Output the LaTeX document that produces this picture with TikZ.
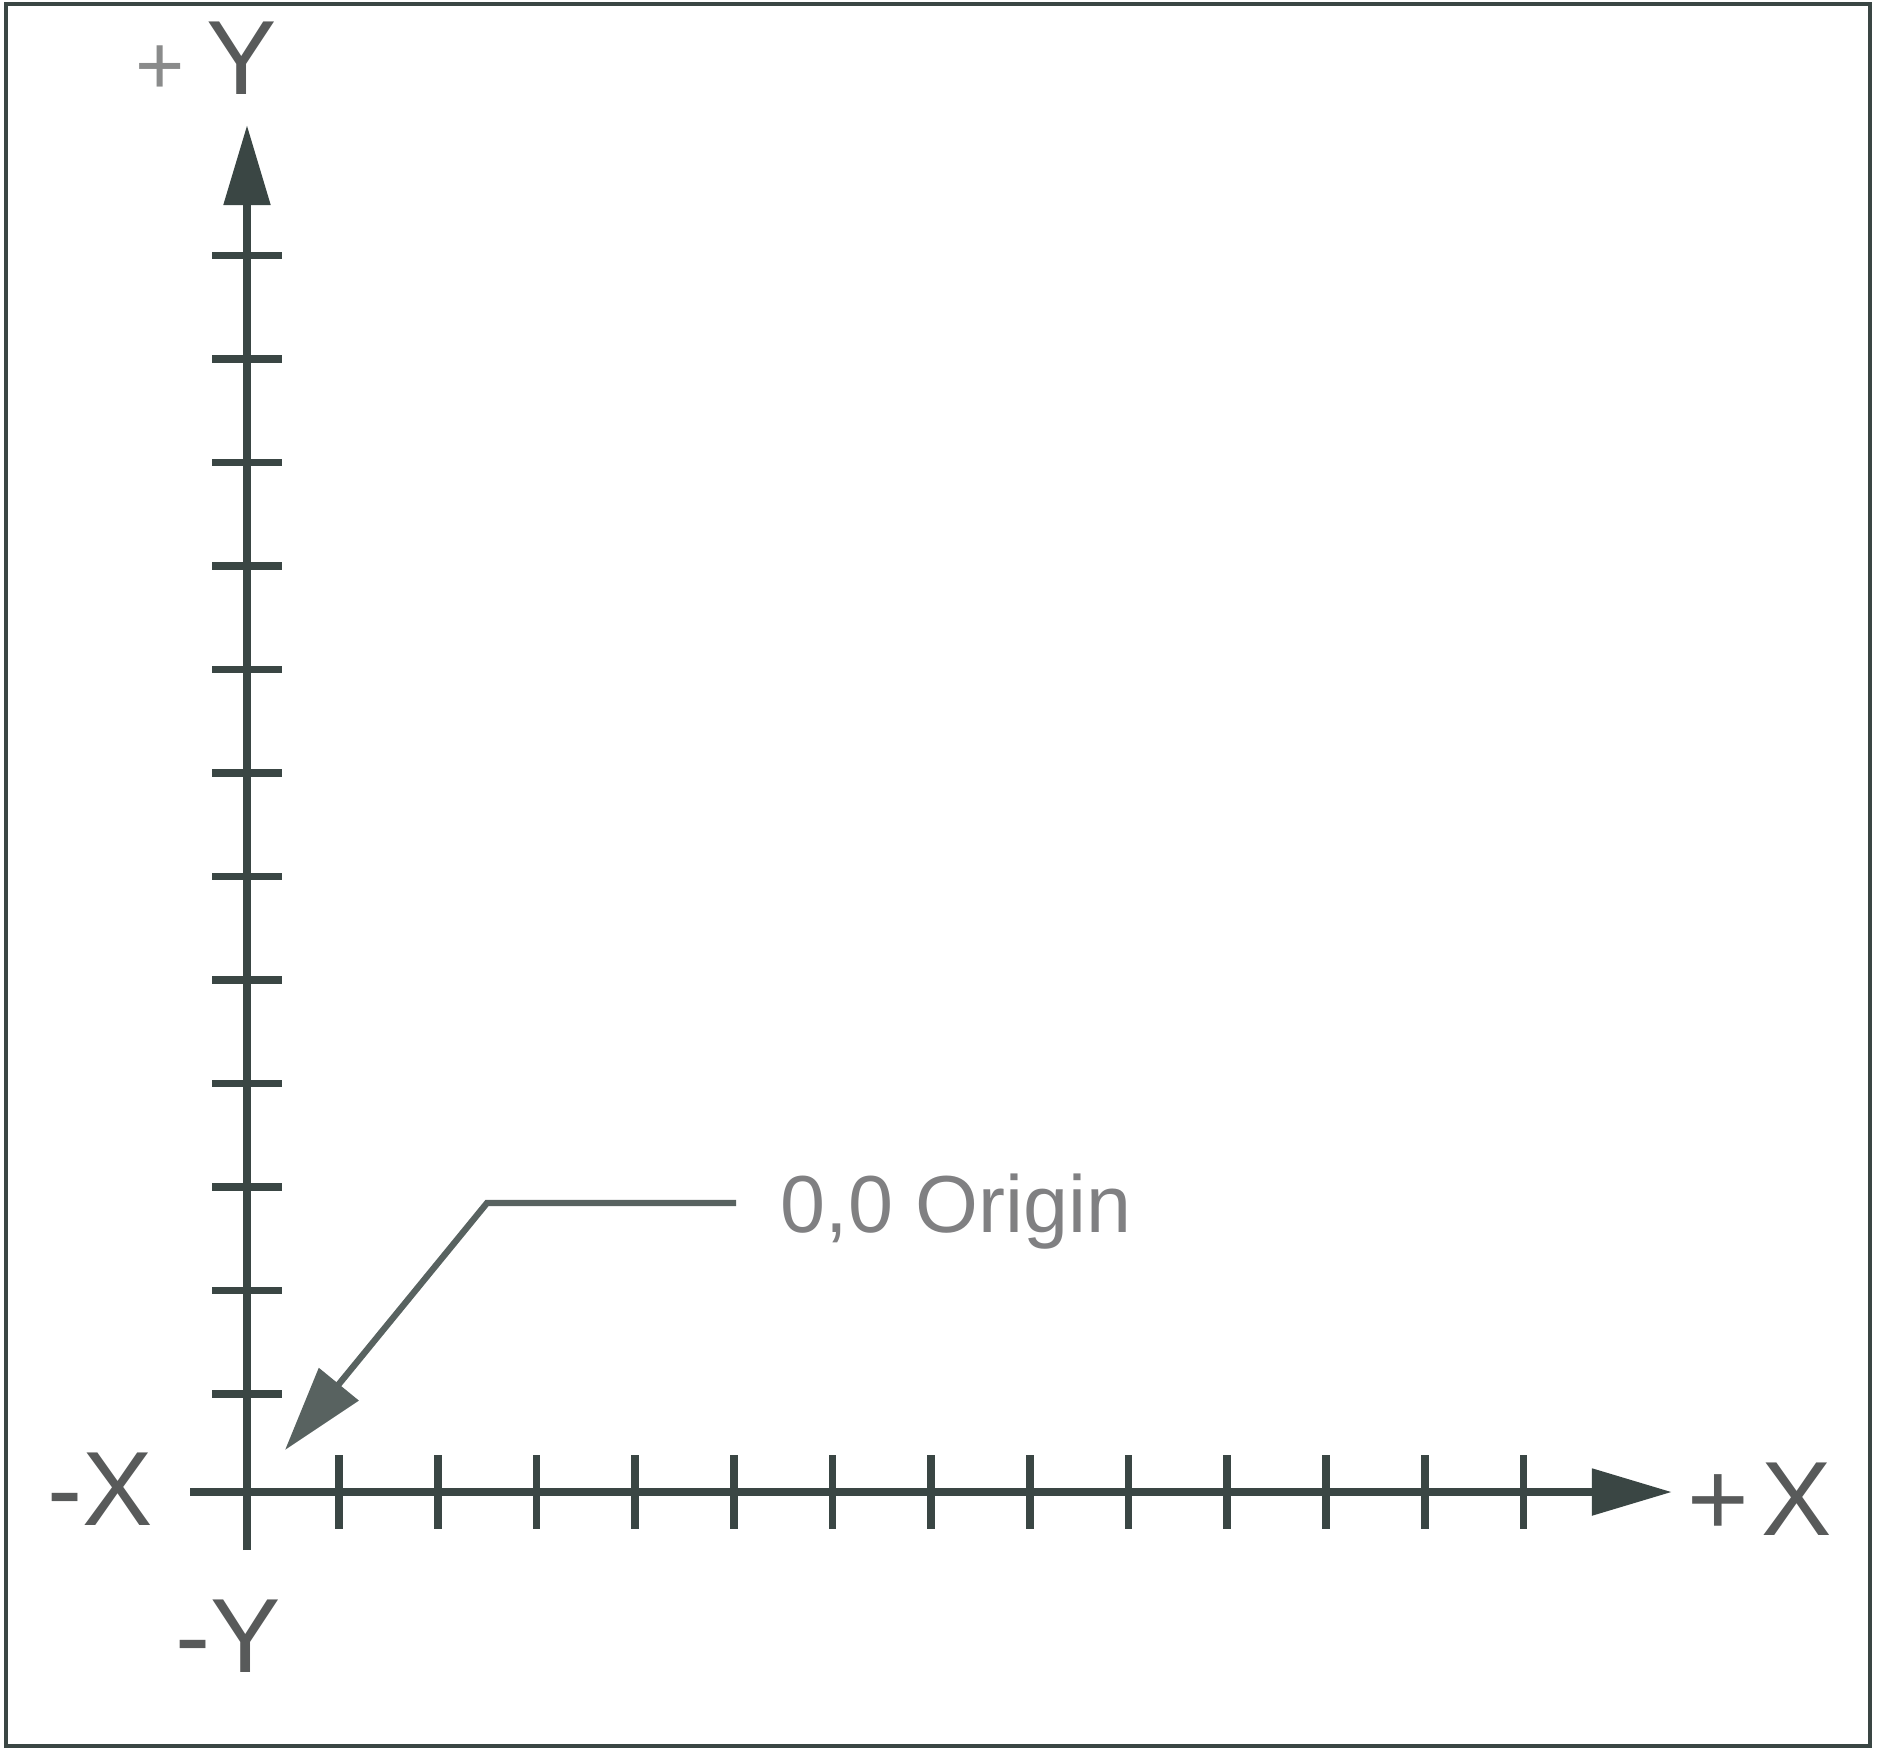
\documentclass[tikz,border=0pt]{standalone}
\usepackage{fontspec}
\setmainfont{Liberation Sans}
\usetikzlibrary{arrows.meta}
\definecolor{axisgray}{RGB}{58,70,68}
\definecolor{labelgray}{RGB}{88,90,90}
\definecolor{notegray}{RGB}{128,128,130}

\tikzset{
  axis/.style={draw=axisgray, line width=2.4pt, -{Triangle[length=0.8cm,width=0.45cm]}},
  axtick/.style={draw=axisgray, line width=2.2pt},
  axlabel/.style={text=labelgray, font=\fontsize{30}{32}\selectfont, inner sep=0pt, anchor=base},
  leader/.style={draw=axisgray!85, line width=1.8pt, -{Triangle[length=0.85cm,width=0.5cm]}}
}

\begin{document}
\begin{tikzpicture}[x=0.01cm, y=-0.01cm]
  \useasboundingbox (0,0) rectangle (1885,1761);
  \draw[axisgray, line width=1.2pt] (6,4) rectangle (1870,1746);

  \coordinate (O) at (247,1492);
  \coordinate (ybot) at (247,1550);
  \coordinate (ytop) at (247,125);
  \coordinate (xleft) at (190,1492);
  \coordinate (xright) at (1672,1492);

  % axes
  \draw[axis] (ybot) -- (ytop);
  \draw[axis] (xleft) -- (xright);

  % tick marks
  \foreach \k in {0,...,11}
    \draw[axtick] (212,{1394-103.5*\k}) -- (282,{1394-103.5*\k});
  \foreach \k in {0,...,12}
    \draw[axtick] ({339+98.7*\k},1455) -- ({339+98.7*\k},1529);

  % axis labels
  \node[axlabel] (yplus) at (206,95) {{\color{labelgray!70}\fontsize{24}{26}\selectfont+}\hspace{0.2em}Y};
  \node[axlabel] (yminus) at (228,1672) {-Y};
  \node[axlabel] (xminus) at (100,1525) {-X};
  \node[axlabel] (xplus) at (1760,1535) {+\hspace{0.12em}X};

  % origin callout
  \node[text=notegray, font=\fontsize{23}{25}\selectfont, anchor=base west, inner sep=0pt]
    (origin) at (780,1232) {0,0 Origin};
  \coordinate (lead) at (736,1203);
  \coordinate (bend) at (487,1203);
  \coordinate (tip) at (285,1450);
  \draw[leader] (lead) -- (bend) -- (tip);
\end{tikzpicture}
\end{document}
